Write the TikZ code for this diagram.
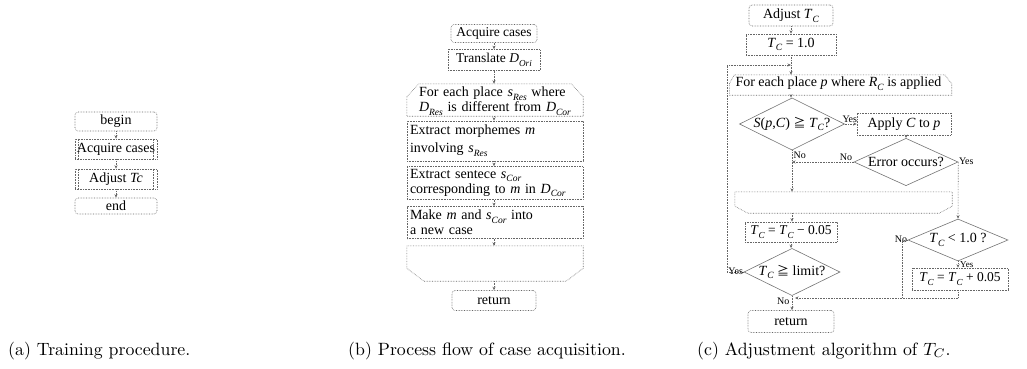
\documentclass[tikz,border=0pt]{standalone}
\usepackage{fontspec}
\newfontfamily\tnr{Liberation Serif}
\newfontfamily\jpf{Noto Sans CJK JP}
\usetikzlibrary{arrows.meta,shapes.geometric}
\newcommand\isub[2]{\textit{#1}\raisebox{-0.26em}{\scalebox{0.68}{\textit{#2}}}}
\newcommand\geqq{{\jpf\fontsize{12}{12}\selectfont ≧}}
\newcommand\captext[1]{\scalebox{1.78}{\normalfont\fontsize{10}{12}\selectfont #1}}
\begin{document}
\begin{tikzpicture}[x=1pt,y=-1pt,
  font=\tnr\fontsize{14}{15}\selectfont,
  bx/.style={draw=black!60, densely dotted, line width=0.6pt, inner sep=0pt, align=center},
  rbx/.style={bx, rounded corners=3pt},
  plain/.style={draw=none, inner sep=0pt},
  dia/.style={diamond, draw=black!55, line width=0.6pt, inner sep=0pt, shape aspect=2},
  arr/.style={draw=black!60, densely dotted, line width=0.6pt, -{Stealth[length=3.5pt,width=3pt]}},
  ln/.style={draw=black!60, densely dotted, line width=0.6pt},
  lab/.style={font=\tnr\fontsize{10}{10}\selectfont, inner sep=0.5pt},
  captxt/.style={inner sep=0pt, anchor=base west}
]
\useasboundingbox (0,0) rectangle (1027,369);

% ---------------- (a) ----------------
\node[rbx, minimum width=82, minimum height=19] (a1) at (116,121.5) {begin};
\node[bx, minimum width=82, minimum height=20] (a2) at (116,149) {Acquire cases};
\node[bx, minimum width=82, minimum height=20] (a3) at (116,179) {Adjust \textit{Tc}};
\node[rbx, minimum width=82, minimum height=16] (a4) at (116,206) {end};
\foreach \n in {a2,a3}{
  \draw[ln] ([xshift=4]\n.north west) -- ([xshift=4]\n.south west);
  \draw[ln] ([xshift=-4]\n.north east) -- ([xshift=-4]\n.south east);
}
\draw[arr] (a1) -- (a2);
\draw[arr] (a2) -- (a3);
\draw[arr] (a3) -- (a4);

% ---------------- (b) ----------------
\node[rbx, minimum width=86, minimum height=18, font=\tnr\fontsize{13.5}{14}\selectfont] (b1) at (494,33.5) {Acquire cases};
\node[bx, minimum width=92, minimum height=21, font=\tnr\fontsize{13.5}{14}\selectfont] (b2) at (494,60) {Translate \isub{D}{Ori}};
\node[plain, minimum width=176, minimum height=32] (b3) at (495,100) {};
\draw[bx] ([yshift=-13]b3.north west) -- ([xshift=12]b3.north west) -- ([xshift=-12]b3.north east)
  -- ([yshift=-13]b3.north east) -- (b3.south east) -- (b3.south west) -- cycle;
\node[plain, text width=152, align=left, font=\tnr\fontsize{14}{15}\selectfont] at ([yshift=-1]b3) {For each place \isub{s}{Res} where\\\isub{D}{Res} is different from \isub{D}{Cor}};
\node[bx, minimum width=176, minimum height=40, text width=170, align=left, font=\tnr\fontsize{14}{18}\selectfont] (b4) at (495,141) {Extract morphemes \textit{m}\\involving \isub{s}{Res}};
\node[bx, minimum width=176, minimum height=33, text width=170, align=left, font=\tnr\fontsize{14}{15}\selectfont] (b5) at (495,183) {Extract sentece \isub{s}{Cor}\\corresponding to \textit{m} in \isub{D}{Cor}};
\node[bx, minimum width=176, minimum height=32, text width=170, align=left, font=\tnr\fontsize{14}{15}\selectfont] (b6) at (495,222.5) {Make \textit{m} and \isub{s}{Cor} into\\a new case};
\node[plain, minimum width=176, minimum height=35] (b7) at (495,263.5) {};
\draw[bx] (b7.north west) -- (b7.north east) -- ([yshift=13]b7.south east)
  -- ([xshift=-17]b7.south east) -- ([xshift=17]b7.south west) -- ([yshift=13]b7.south west) -- cycle;
\node[rbx, minimum width=84, minimum height=20] (b8) at (494,300.5) {return};
\draw[arr] (b1) -- (b2);
\draw[arr] (b2.south) -- (b2.south |- b3.north);
\draw[arr] (b2.south |- b3.south) -- (b2.south |- b4.north);
\draw[arr] (b2.south |- b4.south) -- (b2.south |- b5.north);
\draw[arr] (b2.south |- b5.south) -- (b2.south |- b6.north);
\draw[arr] (b2.south |- b6.south) -- (b2.south |- b7.north);
\draw[arr] (b2.south |- b7.south) -- (b8.north);

% ---------------- (c) ----------------
\node[rbx, minimum width=84, minimum height=21] (c1) at (791,15.5) {Adjust \isub{T}{C}};
\node[bx, minimum width=90, minimum height=21] (c2) at (791,44.5) {\isub{T}{C} = 1.0};
\coordinate (cj) at (791,65);
\node[plain, minimum width=222, minimum height=20] (c3) at (840.5,85) {};
\draw[bx] ([yshift=-9]c3.north west) -- ([xshift=5]c3.north west) -- ([xshift=-7]c3.north east)
  -- ([yshift=-9]c3.north east) -- (c3.south east) -- (c3.south west) -- cycle;
\node[plain, anchor=west] at ([xshift=6,yshift=1]c3.west) {For each place \textit{p} where \isub{R}{C} is applied};
\node[dia, minimum width=105, minimum height=52] (c4) at (792,124) {\textit{S}(\textit{p},\textit{C}) \geqq{} \isub{T}{C}?};
\node[bx, minimum width=94, minimum height=22] (c5) at (904,124) {Apply \textit{C} to \textit{p}};
\node[dia, minimum width=104, minimum height=42] (c6) at (906,162) {Error occurs?};
\node[plain, minimum width=217, minimum height=21] (c7) at (843.5,202.5) {};
\draw[bx] (c7.north west) -- (c7.north east) -- ([yshift=7]c7.south east)
  -- ([xshift=-13]c7.south east) -- ([xshift=13]c7.south west) -- ([yshift=7]c7.south west) -- cycle;
\node[bx, minimum width=92, minimum height=20, font=\tnr\fontsize{13.5}{14}\selectfont] (c8) at (791,232) {\isub{T}{C} = \isub{T}{C} − 0.05};
\node[dia, minimum width=96, minimum height=40] (c9) at (792,272) {\isub{T}{C} \geqq{} limit?};
\node[dia, minimum width=100, minimum height=42] (c10) at (958,240) {\isub{T}{C} < 1.0 ?};
\node[bx, minimum width=96, minimum height=22, font=\tnr\fontsize{13.5}{14}\selectfont] (c11) at (960,279) {\isub{T}{C} = \isub{T}{C} + 0.05};
\node[rbx, minimum width=86, minimum height=22] (c12) at (791,321.5) {return};
\coordinate (cL) at (727,272);
\coordinate (cT) at (727,65);
\coordinate (cN1) at (902,240);
\coordinate (cN2) at (902,298);
\coordinate (cY) at (958,298);
\coordinate (cM) at (792,298);

\draw[arr] (c1) -- (c2);
\draw[ln] (c2.south) -- (cj);
\draw[arr] (cj) -- (cj |- c3.north);
\draw[arr] (c9.west) -- (cL) -- (cT) -- (cj);
\draw[arr] (cj |- c3.south) -- (cj |- c4.north);
\draw[arr] (c4.east) -- (c5.west);
\node[lab, anchor=south west] at ([xshift=-3,yshift=1]c4.east) {Yes};
\draw[arr] (c5.south -| c6.north) -- (c6.north);
\draw[arr] (c6.west) -- (c6.west -| c4.south);
\node[lab, anchor=south east] at ([xshift=-1,yshift=1]c6.west) {No};
\draw[arr] (c4.south) -- (c4.south |- c7.north);
\node[lab, anchor=north west] at ([xshift=1,yshift=-1]c4.south) {No};
\draw[arr] (c6.east) -- (c10.north);
\node[lab, anchor=south west] at ([xshift=0,yshift=-3]c6.east) {Yes};
\draw[arr] (c4.south |- c7.south) -- (c4.south |- c8.north);
\draw[arr] (c8.south) -- (c8.south |- c9.north);
\node[lab, anchor=south east] at ([xshift=0,yshift=-3]c9.west) {Yes};
\draw[arr] (c9.south) -- (c9.south |- c12.north);
\node[lab, anchor=north east] at ([xshift=-2,yshift=-1]c9.south) {No};
\draw[arr] (c10.south) -- (c10.south |- c11.north);
\node[lab, anchor=west, font=\tnr\fontsize{9}{9}\selectfont] at ([xshift=1.5,yshift=-3]c10.south) {Yes};
\node[lab, anchor=south east] at ([xshift=0,yshift=-3]c10.west) {No};
\draw[ln] (c10.west) -- (cN1) -- (cN2);
\draw[arr] (c10.south |- c11.south) -- (cY) -- ([xshift=3]cM);

% ---------------- captions ----------------
\node[captxt] (ka) at (8,355) {\captext{(a) Training procedure.}};
\node[captxt] (kb) at (348,355) {\captext{(b) Process flow of case acquisition.}};
\node[captxt] (kc) at (697,355) {\captext{(c) Adjustment algorithm of $T_C$.}};
\end{tikzpicture}
\end{document}
